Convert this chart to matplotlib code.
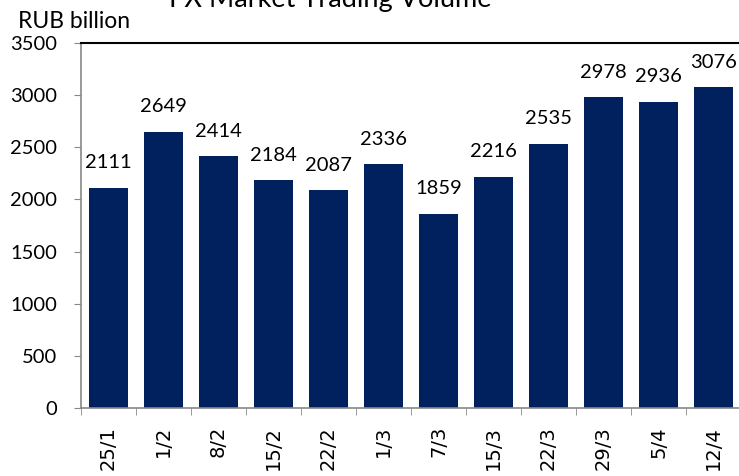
import matplotlib
matplotlib.use("Agg")
import matplotlib.pyplot as plt
import numpy as np

categories = ["25/1", "1/2", "8/2", "15/2", "22/2", "1/3", "7/3", "15/3", "22/3", "29/3", "5/4", "12/4"]
values = [2111, 2649, 2414, 2184, 2087, 2336, 1859, 2216, 2535, 2978, 2936, 3076]
yticks = [0, 500, 1000, 1500, 2000, 2500, 3000, 3500]

W, H = 739, 476
fig = plt.figure(figsize=(W/100, H/100), dpi=100)
left, right, top, bottom = 81, 741, 43, 408
ax = fig.add_axes([left/W, 1-bottom/H, (right-left)/W, (bottom-top)/H])

x = np.arange(len(categories))
bar_color = "#00215e"
ax.bar(x, values, width=0.72, color=bar_color, zorder=2)
ax.set_xlim(-0.5, len(categories)-0.5)
ax.set_ylim(0, 3500)

lab_font = "Lato"
for xi, v in zip(x, values):
    ax.text(xi, v + 160, str(v), ha="center", va="bottom", fontsize=14.5, family=lab_font, color="black")

ax.set_yticks(yticks)
ax.set_yticklabels([str(t) for t in yticks], fontsize=14.5, family=lab_font)
ax.tick_params(axis="y", length=5, color="#888888", pad=12)

ax.set_xticks(x)
ax.set_xticklabels(categories, rotation=90, fontsize=14, family="DejaVu Sans")
ax.tick_params(axis="x", which="major", length=0, pad=13)
ax.set_xticks(np.arange(len(categories)+1) - 0.5, minor=True)
ax.tick_params(axis="x", which="minor", length=5, color="#888888")

for s in ["left", "bottom"]:
    ax.spines[s].set_color("#888888")
    ax.spines[s].set_linewidth(1.2)
ax.spines["right"].set_visible(False)
ax.spines["top"].set_color("black")
ax.spines["top"].set_linewidth(1.5)

fig.text(330/W, 1 - 0/H, "FX Market Trading Volume", ha="center", va="center", fontsize=19.5, family=lab_font)
fig.text(18/W, 1 - 21/H, "RUB billion", ha="left", va="center", fontsize=16.5, family=lab_font)

fig.savefig("out.png", dpi=100)
